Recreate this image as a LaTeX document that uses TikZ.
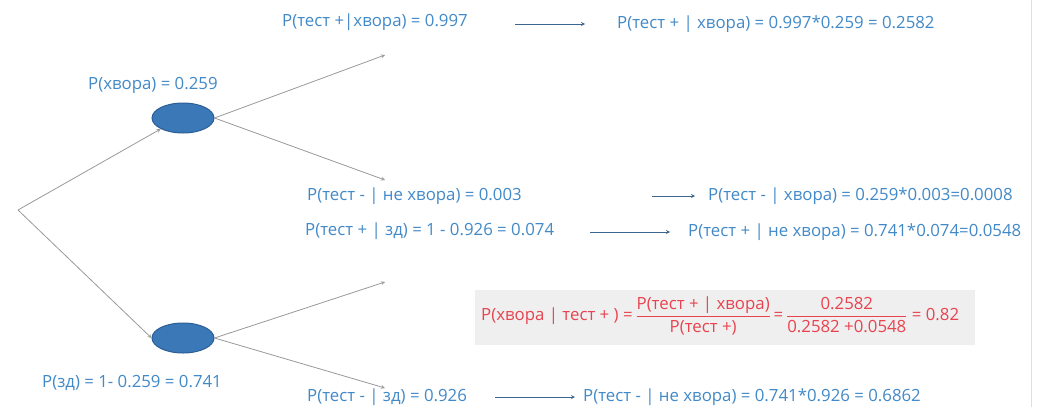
\documentclass[tikz,border=0pt]{standalone}
\usepackage{fontspec}
\setmainfont{Open Sans}
\usetikzlibrary{positioning,shapes.geometric}
\definecolor{txtblue}{HTML}{4189C8}
\definecolor{nodeblue}{HTML}{3B78B8}
\definecolor{nodeedge}{HTML}{2B5E94}
\definecolor{postred}{HTML}{E8434F}
\definecolor{boxgrey}{HTML}{EFEFEF}
\begin{document}
\begin{tikzpicture}[x=1pt,y=-1pt]
    \tikzstyle{event} = [ellipse, draw=nodeedge, fill=nodeblue, line width=1pt, minimum width=62pt, minimum height=30pt]
    \tikzstyle{prob} = [anchor=west, inner sep=0pt, text=txtblue, font=\fontsize{16.8}{19}\selectfont]
    \tikzstyle{branch} = [gray!80, line width=0.8pt, ->, >=stealth]
    \tikzstyle{arrow} = [nodeedge!80!gray, line width=0.8pt, ->, >=stealth]
    \useasboundingbox (0,0) rectangle (1038,407);
    \draw[gray!25] (1031,0) -- (1031,407);

    % the tree
    \coordinate (root) at (18,210);
    \node (ill) [event] at (183,118) {};
    \node (healthy) [event] at (183,338) {};
    \coordinate (illpos) at (385,55);
    \coordinate (illneg) at (385,180);
    \coordinate (hpos) at (385,282);
    \coordinate (hneg) at (385,388);

    \draw [branch] (root) -- (ill.south west);
    \draw [branch] (root) -- (healthy.west);
    \draw [branch] (ill.east) -- (illpos);
    \draw [branch] (ill.east) -- (illneg);
    \draw [branch] (healthy.east) -- (hpos);
    \draw [branch] (healthy.east) -- (hneg);

    \node (pill) [prob] at (88,85) {P(хвора) = 0.259};
    \node (phealthy) [prob] at (42,383) {P(зд) = 1- 0.259 = 0.741};

    % conditional probabilities
    \node (tpi) [prob] at (282,22) {P(тест +|хвора) = 0.997};
    \node (tni) [prob] at (307,196) {P(тест - | не хвора) = 0.003};
    \node (tph) [prob] at (305,231) {P(тест + | зд) = 1 - 0.926 = 0.074};
    \node (tnh) [prob] at (307,397) {P(тест - | зд) = 0.926};

    % joint probabilities
    \node (jpi) [prob] at (617,24) {P(тест + | хвора) = 0.997*0.259 = 0.2582};
    \node (jni) [prob] at (708,196) {P(тест - | хвора) = 0.259*0.003=0.0008};
    \node (jph) [prob] at (688,232) {P(тест + | не хвора) = 0.741*0.074=0.0548};
    \node (jnh) [prob] at (583,397) {P(тест - | не хвора) = 0.741*0.926 = 0.6862};

    \draw [arrow, shorten >=32pt] (515,24) -- (jpi.west);
    \draw [arrow, shorten >=13pt] (652,196) -- (jni.west);
    \draw [arrow, shorten >=18pt] (590,232) -- (jph.west);
    \draw [arrow, shorten >=8pt] (495,397) -- (jnh.west);

    % posterior
    \fill[boxgrey] (475,290) rectangle (975,345);
    \node (post) [prob, text=postred] at (481,316) {P(хвора | тест + ) =\,$\displaystyle\frac{\mbox{P(тест + | хвора)}}{\mbox{P(тест +)}}$\,=\,$\displaystyle\frac{\mbox{0.2582}}{\mbox{0.2582 +0.0548}}$ = 0.82};
\end{tikzpicture}
\end{document}
